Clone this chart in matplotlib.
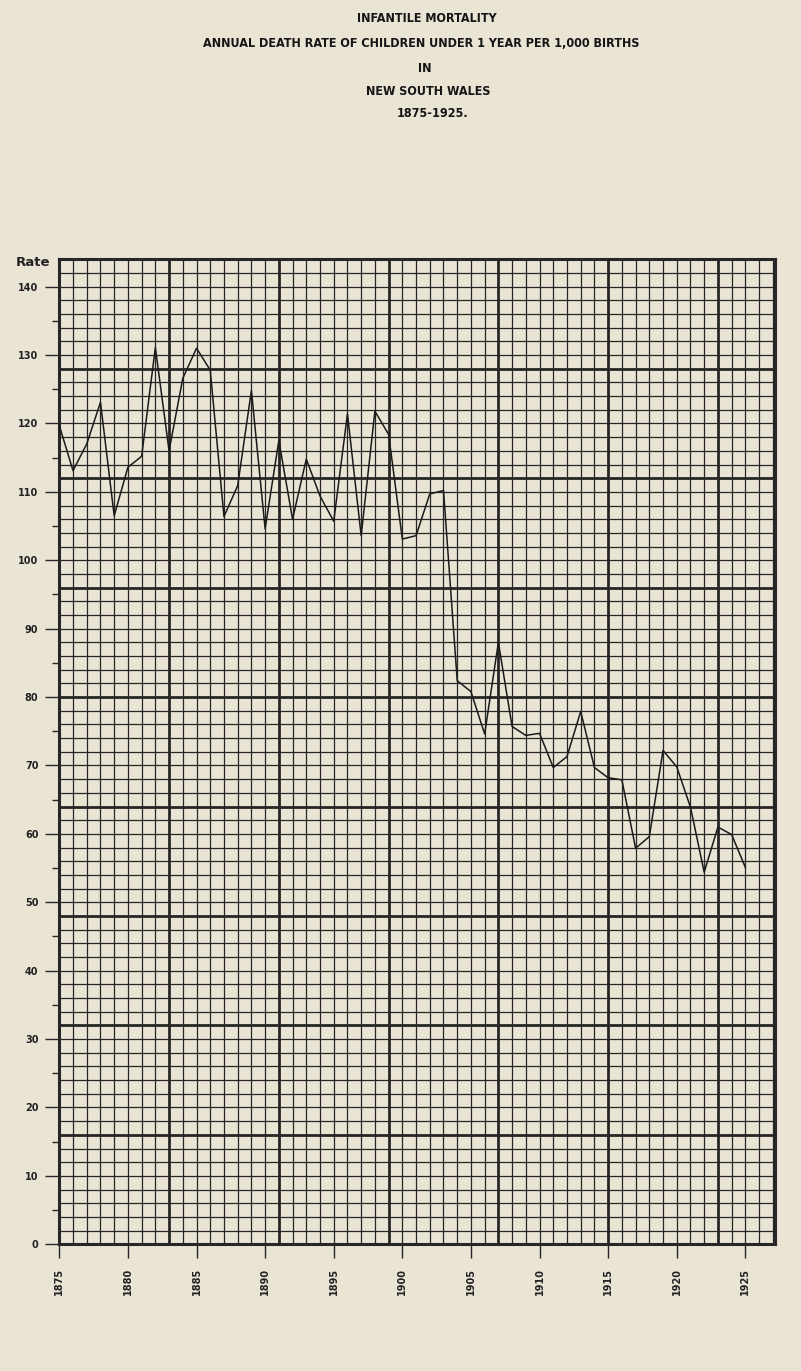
"""
plot.py
Infantile mortality, New South Wales 1875-1925, drawn on graph paper
"""

import numpy as np
import matplotlib
matplotlib.use("Agg")
import matplotlib.pyplot as plt

OUTPUT_FILE = "out.png"
PAPER       = "#e9e4d4"
INK         = "#262626"

YEARS = list(range(1875, 1926))
RATES = [
    119.7, 113.1, 117.0, 123.1, 106.5, 113.6, 115.2, 131.1, 116.0, 126.6,
    131.0, 127.8, 106.4, 110.9, 124.8, 104.6, 117.5, 106.0, 114.8, 109.4,
    105.7, 121.4, 103.6, 121.8, 118.4, 103.1, 103.6, 109.7, 110.2, 82.4,
    80.8, 74.6, 88.0, 75.7, 74.4, 74.7, 69.7, 71.3, 77.9, 69.7,
    68.2, 67.9, 57.9, 59.6, 72.2, 69.8, 63.9, 54.4, 61.0, 59.9,
    55.1,
]
Y_TICKS      = list(range(0, 141, 10))
Y_MINOR      = list(range(5, 140, 10))
X_TICKS      = list(range(1875, 1926, 5))
TITLE_LINES  = [
    "INFANTILE MORTALITY",
    "ANNUAL DEATH RATE OF CHILDREN UNDER 1 YEAR PER 1,000 BIRTHS",
    "IN",
    "NEW SOUTH WALES",
    "1875-1925.",
]

X_MIN, X_MAX = 1875, 1927.16
Y_MIN, Y_MAX = 0, 144


def draw_paper(ax):
    # graph paper: a line every year / every 2 units, heavy every 8 squares
    for i, x in enumerate(np.arange(X_MIN + 1, X_MAX, 1.0)):
        heavy = (i + 1) % 8 == 0
        ax.axvline(x, color=INK, linewidth=2.0 if heavy else 0.9, zorder=1)
    for i, y in enumerate(np.arange(Y_MIN + 2, Y_MAX, 2.0)):
        heavy = (i + 1) % 8 == 0
        ax.axhline(y, color=INK, linewidth=2.0 if heavy else 0.9, zorder=1)


def main():
    fig = plt.figure(figsize=(8.01, 13.71), dpi=100, facecolor=PAPER)
    ax = fig.add_axes([59.3 / 801, 1 - 1244.3 / 1371, (775 - 59.3) / 801, (1244.3 - 259.3) / 1371])
    ax.set_facecolor(PAPER)

    draw_paper(ax)
    ax.plot(YEARS, RATES, color="#1a1a1a", linewidth=1.1, zorder=3)

    ax.set_xlim(X_MIN, X_MAX)
    ax.set_ylim(Y_MIN, Y_MAX)
    for s in ax.spines.values():
        s.set_linewidth(2.2)
        s.set_color(INK)

    ax.set_yticks(Y_TICKS)
    ax.set_yticks(Y_MINOR, minor=True)
    ax.set_yticklabels([str(v) for v in Y_TICKS], fontsize=7, fontweight="bold", color="#222222")
    ax.tick_params(axis="y", which="major", length=10, width=1.0, pad=5, color=INK)
    ax.tick_params(axis="y", which="minor", length=5, width=1.0, color=INK)

    ax.set_xticks(X_TICKS)
    ax.set_xticklabels([str(v) for v in X_TICKS], rotation=90, fontsize=7,
                       fontweight="bold", color="#222222", va="top")
    ax.tick_params(axis="x", which="major", length=10, width=1.0, pad=7, color=INK)

    fig.text(33 / 801, 1 - 262 / 1371, "Rate", fontsize=9.5, fontweight="bold",
             color="#222222", ha="center", va="center")

    centers = [(427, 18.5), (421, 43.5), (425, 69), (428, 91.5), (433, 113.5)]
    for line, (cx, cy) in zip(TITLE_LINES, centers):
        fig.text(cx / 801, 1 - cy / 1371, line, fontsize=9, fontweight="bold",
                 fontstretch="condensed", family="DejaVu Sans", color="#151515",
                 ha="center", va="center")

    fig.savefig(OUTPUT_FILE, dpi=100, facecolor=PAPER)
    plt.close(fig)


if __name__ == "__main__":
    main()
